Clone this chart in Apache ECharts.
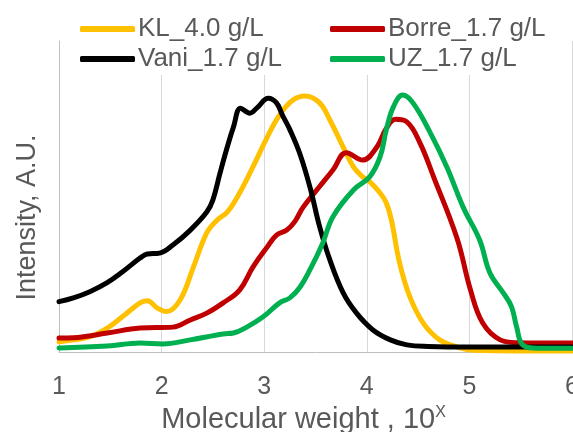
<!DOCTYPE html>
<html lang="en">
<head>
    <meta charset="UTF-8">
    <title>Molecular weight distribution</title>
    <script src="https://cdn.jsdelivr.net/npm/echarts@6/dist/echarts.min.js"></script>
    <style>
        html, body { margin: 0; padding: 0; background: #fff; }
        #main { width: 573px; height: 432px; }
    </style>
</head>
<body>
    <div id="main"></div>
    <script>
        // series names (legend order)
        var names = ['KL_4.0 g/L', 'Borre_1.7 g/L', 'Vani_1.7 g/L', 'UZ_1.7 g/L'];
        var colors = ['#FFC000', '#C00000', '#000000', '#00B050'];
        var xTicks = [1, 2, 3, 4, 5, 6];

        // KL (yellow)
        var klX = [1.00, 1.14, 1.30, 1.47, 1.62, 1.79, 1.86, 1.96, 2.05, 2.18, 2.31, 2.44, 2.54, 2.64, 2.76, 2.89, 3.03, 3.15, 3.28, 3.40, 3.54, 3.64, 3.77, 3.87, 3.96, 4.03, 4.13, 4.19, 4.24, 4.32, 4.42, 4.55, 4.71, 4.88, 5.04, 6.00];
        var klY = [3.3, 3.9, 4.9, 7.7, 11.4, 15.8, 16.5, 14.1, 13.0, 16.7, 27.3, 38.3, 42.4, 45.0, 51.1, 59.5, 69.1, 76.2, 81.0, 82.3, 80.1, 74.6, 65.9, 59.5, 56.3, 54.7, 51.1, 47.9, 42.4, 28.6, 17.7, 9.3, 3.9, 1.6, 0.6, 0.3];

        // Borre (red)
        var borreX = [1.00, 1.14, 1.47, 1.79, 2.11, 2.28, 2.44, 2.60, 2.76, 2.89, 3.03, 3.12, 3.22, 3.30, 3.38, 3.54, 3.67, 3.80, 3.96, 4.10, 4.19, 4.28, 4.39, 4.52, 4.65, 4.88, 5.01, 5.13, 5.30, 5.46, 6.00];
        var borreY = [4.5, 4.6, 6.1, 7.7, 8.0, 10.3, 12.5, 15.8, 19.9, 27.3, 33.8, 37.6, 39.2, 42.0, 46.6, 53.2, 58.5, 64.1, 61.7, 66.0, 71.9, 74.8, 74.0, 67.1, 56.4, 36.5, 20.0, 9.3, 3.9, 3.0, 2.9];

        // Vani (black)
        var vaniX = [1.00, 1.14, 1.30, 1.47, 1.62, 1.79, 1.86, 1.98, 2.11, 2.28, 2.44, 2.50, 2.57, 2.64, 2.70, 2.77, 2.86, 2.93, 3.04, 3.12, 3.18, 3.25, 3.35, 3.45, 3.54, 3.64, 3.77, 3.90, 4.06, 4.23, 4.39, 4.60, 5.00, 6.00];
        var vaniY = [16.2, 17.4, 19.4, 22.3, 25.8, 30.2, 31.5, 31.8, 34.4, 39.2, 45.0, 48.9, 57.6, 65.9, 72.3, 78.4, 76.8, 78.5, 81.6, 80.1, 76.0, 71.5, 63.5, 52.5, 40.3, 29.6, 19.0, 12.5, 7.1, 3.9, 2.3, 1.8, 1.6, 1.6];

        // UZ (green)
        var uzX = [1.00, 1.47, 1.79, 2.01, 2.28, 2.60, 2.70, 2.83, 2.99, 3.15, 3.25, 3.35, 3.45, 3.57, 3.67, 3.87, 4.03, 4.13, 4.19, 4.26, 4.35, 4.45, 4.62, 4.78, 4.94, 5.10, 5.20, 5.33, 5.41, 5.46, 5.52, 5.66, 6.00];
        var uzY = [1.3, 1.9, 2.9, 2.6, 3.9, 5.8, 6.1, 8.0, 11.3, 15.8, 17.4, 20.9, 26.7, 35.0, 43.5, 52.1, 56.4, 62.8, 71.4, 78.9, 82.6, 80.1, 70.4, 59.5, 46.5, 36.0, 25.4, 19.0, 14.6, 8.1, 2.3, 1.2, 1.2];

        function zip(xs, ys) {
            var out = [];
            for (var i = 0; i < xs.length; i++) {
                out.push([xs[i], ys[i]]);
            }
            return out;
        }

        var allData = [zip(klX, klY), zip(borreX, borreY), zip(vaniX, vaniY), zip(uzX, uzY)];

        var series = [];
        for (var i = 0; i < names.length; i++) {
            series.push({
                name: names[i],
                type: 'line',
                data: allData[i],
                smooth: 0.4,
                symbol: 'none',
                lineStyle: { width: 5, color: colors[i], cap: 'round', join: 'round' },
                itemStyle: { color: colors[i] }
            });
        }

        var textColor = '#595959';
        var font = 'Liberation Sans, Arial, sans-serif';

        // legend: two columns, white box hides the top of the gridlines like the original
        function legendCol(left, items) {
            return {
                data: items,
                orient: 'vertical',
                left: left,
                top: 0,
                padding: [16, 8, 3, 5],
                itemGap: 4,
                itemWidth: 55,
                itemHeight: 6,
                icon: 'roundRect',
                backgroundColor: '#ffffff',
                textStyle: { color: textColor, fontSize: 26, fontFamily: font, padding: [0, 0, 0, -2] }
            };
        }

        var myChart = echarts.init(document.getElementById('main'));

        var option = {
            animation: false,
            backgroundColor: '#ffffff',
            grid: { left: 59, right: 1, top: 41, bottom: 80, outerBoundsMode: 'none', containLabel: false },
            legend: [
                legendCol(75, [names[0], names[2]]),
                legendCol(325, [names[1], names[3]])
            ],
            xAxis: {
                type: 'value',
                min: 1,
                max: 6,
                interval: 1,
                name: 'Molecular weight , 10{sup|X}',
                nameLocation: 'middle',
                nameGap: 53,
                nameTextStyle: {
                    color: textColor,
                    fontSize: 29,
                    fontFamily: font,
                    padding: [0, 24, 0, 0],
                    rich: {
                        sup: { fontSize: 16, color: textColor, fontFamily: font, verticalAlign: 'top', padding: [0, 0, 14, 0] }
                    }
                },
                axisLine: { show: true, lineStyle: { color: '#bfbfbf', width: 1 } },
                axisTick: { show: false },
                axisLabel: {
                    color: textColor,
                    fontSize: 25,
                    fontFamily: font,
                    margin: 23,
                    formatter: function (v) {
                        return xTicks.indexOf(v) >= 0 ? String(v) : '';
                    }
                },
                splitLine: { show: true, lineStyle: { color: '#d9d9d9', width: 1 } }
            },
            yAxis: {
                type: 'value',
                min: 0,
                max: 100,
                name: 'Intensity, A.U.',
                nameLocation: 'middle',
                nameGap: 18,
                nameRotate: 90,
                nameTextStyle: {
                    color: textColor,
                    fontSize: 27,
                    fontFamily: font,
                    padding: [0, 42, 0, 0]
                },
                axisLine: { show: true, lineStyle: { color: '#bfbfbf', width: 1 } },
                axisTick: { show: false },
                axisLabel: { show: false },
                splitLine: { show: false }
            },
            series: series
        };

        myChart.setOption(option);
    </script>
</body>
</html>
